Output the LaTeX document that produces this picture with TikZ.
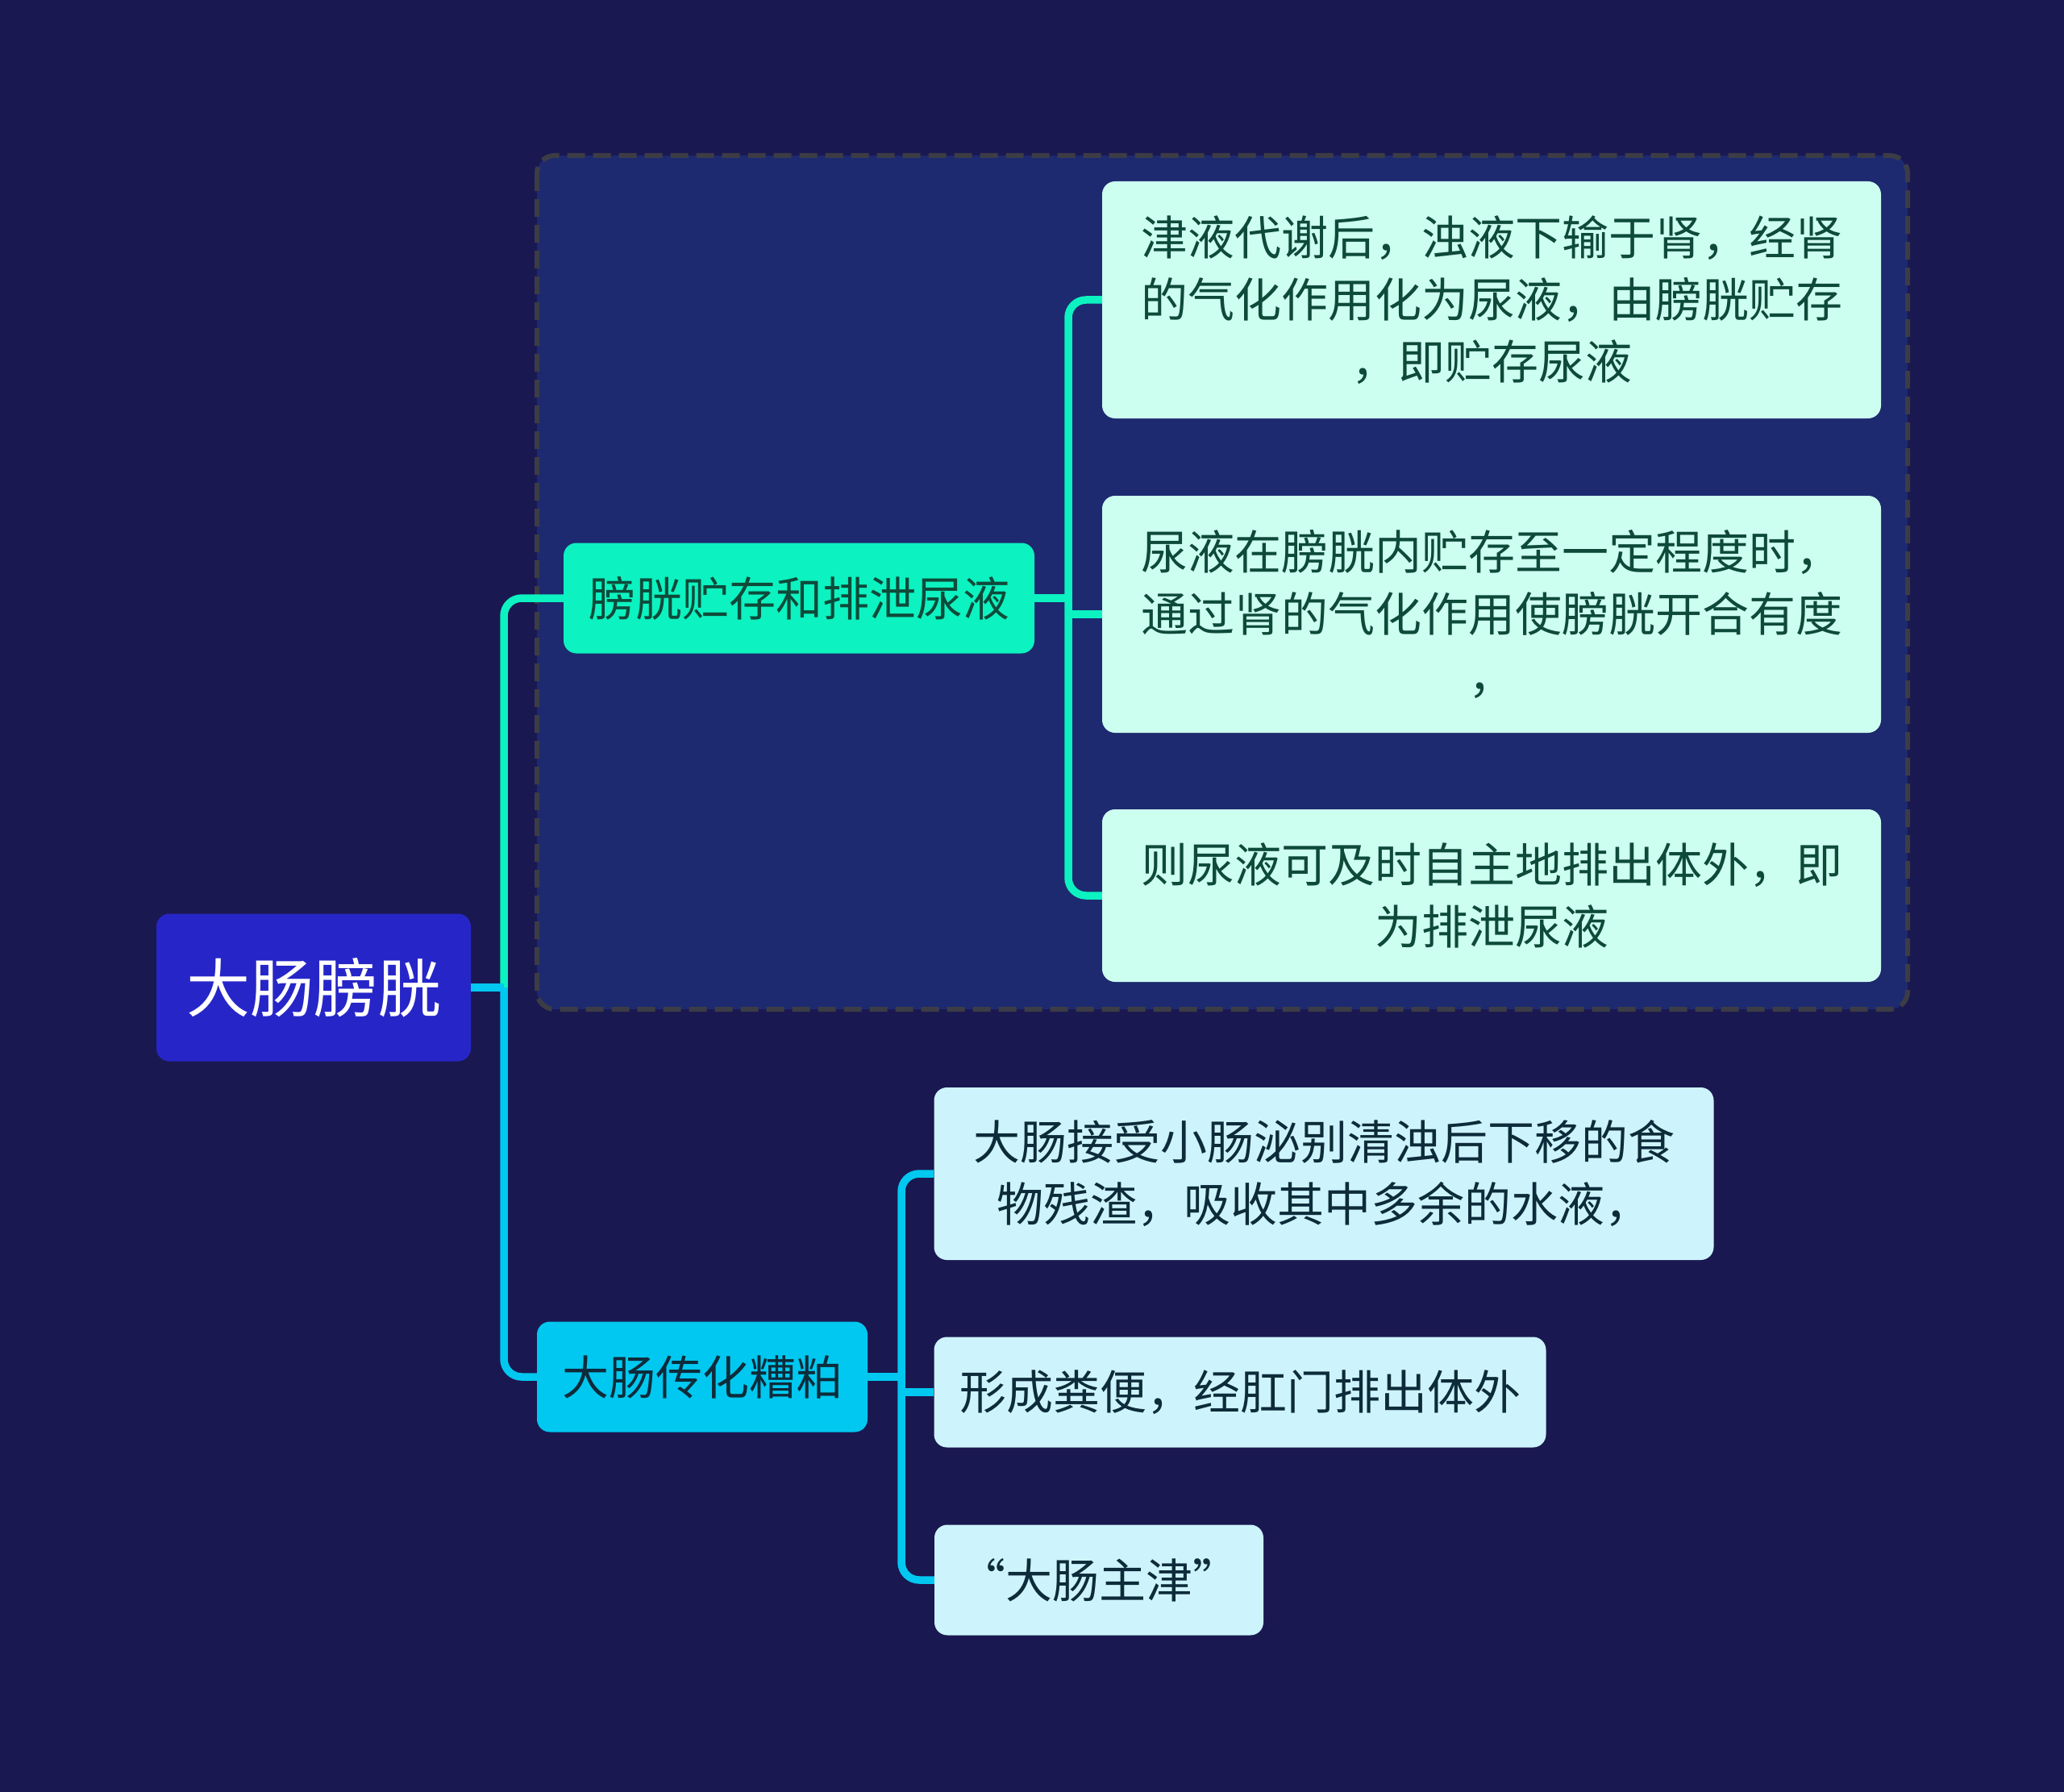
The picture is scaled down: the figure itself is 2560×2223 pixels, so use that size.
\documentclass[tikz,border=0pt]{standalone}
\usepackage{fontspec}
\setmainfont{Noto Sans CJK SC}
\usetikzlibrary{positioning, backgrounds, calc}
\definecolor{bgNavy}{HTML}{1A1850}
\definecolor{groupFill}{HTML}{1D2A6F}
\definecolor{groupLine}{HTML}{3C3C46}
\definecolor{rootBlue}{HTML}{2626C8}
\definecolor{bladderGreen}{HTML}{0CF2C0}
\definecolor{bladderLeaf}{HTML}{CDFFF0}
\definecolor{bladderText}{HTML}{0E4A3A}
\definecolor{colonCyan}{HTML}{00C8F0}
\definecolor{colonLeaf}{HTML}{CDF4FC}
\definecolor{colonText}{HTML}{0D2B3A}

\begin{document}
\begin{tikzpicture}[
    x=1pt, y=-1pt,
    every node/.style={font=\fontsize{58}{77}\selectfont, align=center, inner sep=0pt},
    box/.style={rectangle, rounded corners=16pt},
    rootbox/.style={box, fill=rootBlue, text=white, font=\fontsize{79}{90}\selectfont, minimum width=390pt, minimum height=183pt},
    bladderbox/.style={box, fill=bladderGreen, text=bladderText, minimum height=137pt},
    bladderleaf/.style={box, fill=bladderLeaf, text=bladderText, minimum width=966pt},
    colonbox/.style={box, fill=colonCyan, text=colonText, minimum height=137pt},
    colonleaf/.style={box, fill=colonLeaf, text=colonText},
    link/.style={line width=9.5pt, rounded corners=22pt},
    bladderlink/.style={link, draw=bladderGreen},
    colonlink/.style={link, draw=colonCyan}
]

% Background
\fill[bgNavy] (0,0) rectangle (2560,2223);
\useasboundingbox (0,0) rectangle (2560,2223);

% Dashed group round the bladder branch
\draw[groupLine, fill=groupFill, line width=6pt, dash pattern=on 22pt off 10pt, rounded corners=22pt] (666,193) rectangle (2366,1252);

% Root
\node[rootbox] (root) at (389,1225) {大肠膀胱};

% Main topics
\node[bladderbox, minimum width=584pt] (bladder) at (991,742) {膀胱贮存和排泄尿液};
\node[colonbox, minimum width=410pt] (colon) at (871,1708) {大肠传化糟粕};

% Bladder details
\node[bladderleaf, minimum height=294pt] (store) at (1850,372) {津液代谢后，浊液下输于肾，经肾\\的气化作用化为尿液，由膀胱贮存\\，即贮存尿液};
\node[bladderleaf, minimum height=294pt] (control) at (1850,762) {尿液在膀胱内贮存至一定程度时，\\通过肾的气化作用使膀胱开合有度\\，};
\node[bladderleaf, minimum height=214pt] (excrete) at (1850,1111) {则尿液可及时自主地排出体外，即\\为排泄尿液};

% Colon details
\node[colonleaf, minimum width=967pt, minimum height=214pt] (absorb) at (1642,1456) {大肠接受小肠泌别清浊后下移的食\\物残渣，吸收其中多余的水液，};
\node[colonleaf, minimum width=759pt, minimum height=137pt] (stool) at (1538,1727) {形成粪便，经肛门排出体外};
\node[colonleaf, minimum width=408pt, minimum height=137pt] (fluid) at (1363,1960) {“大肠主津”};

% Forks
\coordinate (rootfork) at (625,1225);
\coordinate (bladderfork) at (1325,742);
\coordinate (colonfork) at (1118,1708);

% Root to topics
\draw[bladderlink] (rootfork) |- (bladder.west);
\draw[colonlink] (rootfork) |- (colon.west);
\draw[colonlink] (root.east) -- (rootfork);

% Bladder branch
\draw[bladderlink] (store.west) -| (bladderfork) |- (excrete.west);
\draw[bladderlink] (bladder.east) -- (bladderfork);
\draw[bladderlink] (control.west) -- (control.west -| bladderfork);

% Colon branch
\draw[colonlink] (absorb.west) -| (colonfork) |- (fluid.west);
\draw[colonlink] (colon.east) -- (colonfork);
\draw[colonlink] (stool.west) -- (stool.west -| colonfork);

\end{tikzpicture}
\end{document}
